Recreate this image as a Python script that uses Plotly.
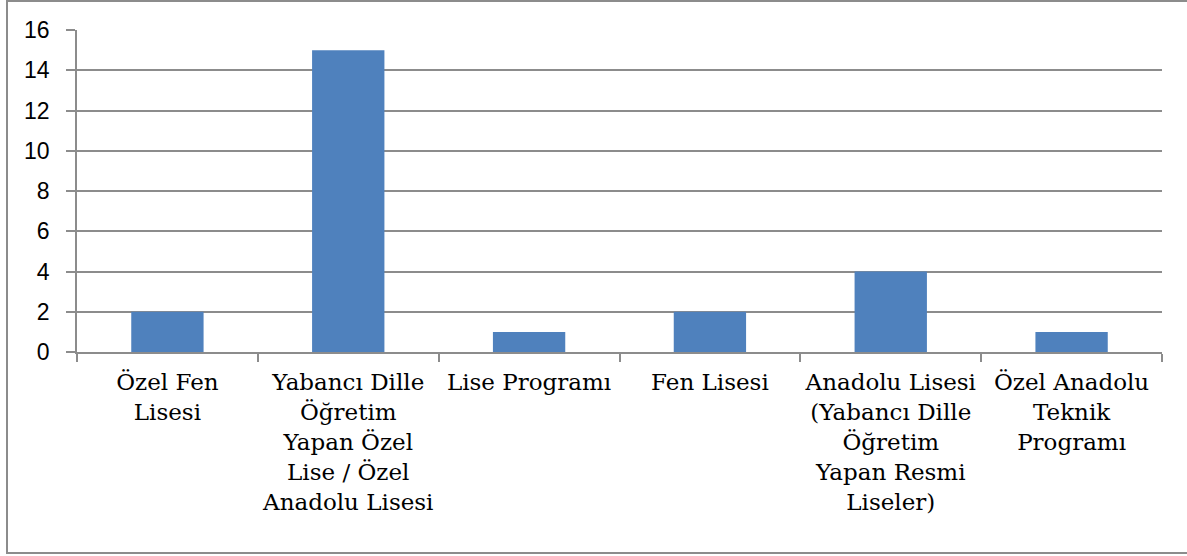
import plotly.graph_objects as go

categories = [
    "Özel Fen<br>Lisesi",
    "Yabancı Dille<br>Öğretim<br>Yapan Özel<br>Lise / Özel<br>Anadolu Lisesi",
    "Lise Programı",
    "Fen Lisesi",
    "Anadolu Lisesi<br>(Yabancı Dille<br>Öğretim<br>Yapan Resmi<br>Liseler)",
    "Özel Anadolu<br>Teknik<br>Programı",
]
values = [2, 15, 1, 2, 4, 1]
y_ticks = [0, 2, 4, 6, 8, 10, 12, 14, 16]

W, H = 1187, 556
L, R, T, B = 77, 25, 30, 204

fig = go.Figure(go.Bar(
    x=categories, y=values,
    marker=dict(color="#4F81BD", line=dict(width=0)),
    width=0.4,
))

pw = W - L - R
ph = H - T - B
fig.add_shape(type="rect", xref="paper", yref="paper",
              x0=(7 - L) / pw, x1=(W + 5 - L) / pw,
              y0=(H - 553 - B) / ph, y1=(H - 1 - B) / ph,
              line=dict(color="#8c8c8c", width=2), fillcolor="rgba(0,0,0,0)",
              layer="below")

fig.update_layout(
    width=W, height=H,
    margin=dict(l=L, r=R, t=T, b=B),
    plot_bgcolor="white", paper_bgcolor="white",
    showlegend=False,
    xaxis=dict(
        type="category",
        showline=True, linecolor="#8c8c8c", linewidth=1.5,
        ticks="outside", tickson="boundaries", ticklen=8, tickcolor="#8c8c8c", tickwidth=1.5,
        showgrid=False,
        tickfont=dict(family="DejaVu Serif", size=23, color="black"),
        tickangle=0,
        ticklabelstandoff=9,
    ),
    yaxis=dict(
        range=[0, 16], tickvals=y_ticks,
        showline=True, linecolor="#8c8c8c", linewidth=1.5,
        ticks="outside", ticklen=9, tickcolor="#8c8c8c", tickwidth=1.5,
        showgrid=True, gridcolor="#8c8c8c", gridwidth=1.5,
        zeroline=False,
        tickfont=dict(family="Liberation Sans", size=23, color="black"),
        ticklabelstandoff=12,
    ),
)

fig.write_html("out.html", config={"displayModeBar": False},
               post_script="document.body.style.margin='0';")
